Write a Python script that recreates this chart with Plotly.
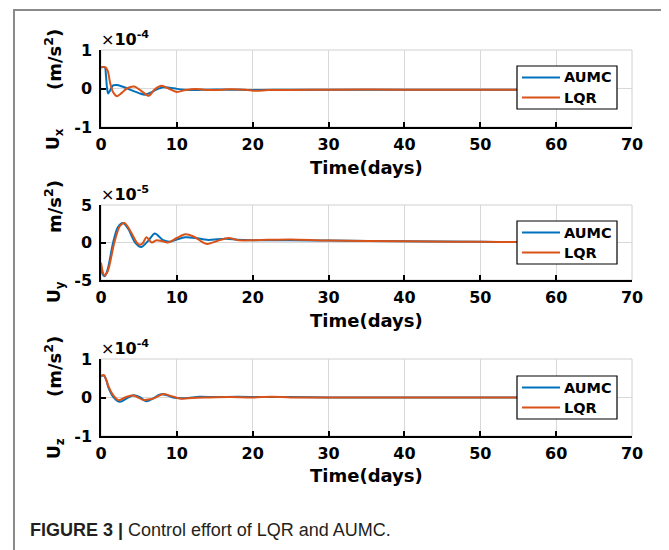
import plotly.graph_objects as go

# ---------------- data ----------------
# U_x, units of 1e-4 m/s^2
ux_aumc_t = [0, 0.5, 0.65, 0.8, 0.95, 1.2, 1.6, 2.1, 2.8, 3.5, 4.3, 5.0, 5.8, 6.5, 7.3, 8.2, 9.0, 10.0,
             11.0, 12.5, 14, 17, 20, 25, 30, 40, 50, 60]
ux_aumc_v = [0.55, 0.55, 0.35, 0.0, -0.13, -0.05, 0.08, 0.09, 0.05, 0.0, -0.07, -0.12, -0.16, -0.11,
             -0.03, 0.03, 0.02, -0.01, -0.03, -0.04, -0.03, -0.03, -0.04, -0.03, -0.03, -0.03, -0.03, -0.03]
ux_lqr_t = [0, 0.3, 0.6, 0.9, 1.2, 1.6, 2.1, 2.7, 3.4, 4.4, 5.3, 6.3, 7.1, 8.0, 8.9, 10.0, 11.1, 12.4,
            13.5, 15, 17, 19, 20.5, 22, 25, 30, 40, 50, 60]
ux_lqr_v = [0.55, 0.56, 0.55, 0.45, 0.15, -0.1, -0.2, -0.12, 0.0, 0.05, -0.06, -0.19, -0.02, 0.07, 0.0,
            -0.09, -0.04, -0.01, -0.03, -0.04, -0.02, -0.03, -0.06, -0.04, -0.04, -0.03, -0.03, -0.03, -0.03]

# U_y, units of 1e-5 m/s^2
uy_aumc_t = [0, 0.25, 0.5, 0.9, 1.6, 2.2, 2.9, 3.6, 4.5, 5.3, 6.2, 7.1, 8.2, 9.1, 10.0, 11.1, 12.5, 14,
             16.5, 18, 20, 25, 30, 40, 50, 55, 60]
uy_aumc_v = [-3.3, -4.3, -4.5, -3.5, 0.0, 2.0, 2.6, 1.8, 0.0, -0.6, 0.2, 1.2, 0.3, 0.1, 0.4, 0.7, 0.6,
             0.35, 0.5, 0.35, 0.3, 0.3, 0.25, 0.15, 0.1, 0.05, 0.05]
uy_lqr_t = [0, 0.2, 0.45, 0.9, 1.76, 2.5, 3.1, 4.0, 4.7, 5.1, 5.5, 6.0, 6.7, 7.3, 8.0, 8.8, 10.0, 11.1,
            12.2, 13.3, 14.0, 15.3, 16.8, 18.2, 20, 22, 25, 30, 40, 47, 50, 55, 60]
uy_lqr_v = [-2.7, -3.8, -4.4, -3.8, 0.0, 2.2, 2.6, 1.3, 0.0, -0.3, -0.1, 0.7, 0.0, 0.3, 0.2, 0.0, 0.6,
            1.1, 0.8, 0.1, -0.2, 0.2, 0.6, 0.3, 0.3, 0.35, 0.4, 0.25, 0.15, 0.1, 0.1, 0.05, 0.05]

# U_z, units of 1e-4 m/s^2
uz_aumc_t = [0, 0.4, 0.7, 1.0, 1.6, 2.5, 3.4, 4.3, 5.2, 6.0, 6.9, 7.8, 8.7, 9.5, 10.5, 11.5, 13, 15,
             18, 21, 25, 30, 40, 50, 60]
uz_aumc_v = [0.56, 0.57, 0.45, 0.25, 0.02, -0.11, -0.02, 0.06, 0.0, -0.1, -0.02, 0.08, 0.06, 0.0,
             -0.02, -0.01, 0.02, 0.01, 0.02, 0.01, 0.01, 0.0, 0.0, 0.0, 0.0]
uz_lqr_t = [0, 0.4, 0.7, 1.0, 1.6, 2.3, 3.4, 4.3, 5.0, 5.6, 6.2, 6.9, 7.5, 8.2, 9.3, 10.6, 12, 14, 17,
            20, 22.5, 25, 30, 40, 50, 60]
uz_lqr_v = [0.56, 0.58, 0.45, 0.28, 0.06, -0.07, 0.02, 0.05, -0.01, -0.07, -0.05, -0.03, 0.03, 0.09,
            0.035, -0.03, -0.01, 0.0, 0.01, 0.0, 0.02, 0.0, 0.0, 0.0, 0.0, 0.0]

x_ticks = [0, 10, 20, 30, 40, 50, 60, 70]
y_ticks_x = [-1, 0, 1]
y_ticks_y = [-5, 0, 5]
y_ticks_z = [-1, 0, 1]
y_ticktext_x = ["-1", "0", "1"]
y_ticktext_y = ["-5", "0", "5"]
y_ticktext_z = ["-1", "0", "1"]
series_names = ["AUMC", "LQR"]
exp_labels = ["-4", "-5", "-4"]

# ---------------- styling ----------------
# The page body has an 8px margin, so the figure is sized to the visible
# window area and all page coordinates are offset by that margin.
OFF = 8
W, H = 669 - OFF, 550 - OFF
BLUE = "#0072BD"
ORANGE = "#D95319"
COLORS = [BLUE, ORANGE]
FONT = "DejaVu Sans"

def px(x):
    return (x - OFF) / W

def py(y):
    return 1 - (y - OFF) / H

xdom = [px(101), px(632)]
ydoms = [[py(127), py(50)], [py(280), py(205)], [py(436), py(359)]]

fig = go.Figure()

panels = [
    (ux_aumc_t, ux_aumc_v, ux_lqr_t, ux_lqr_v, y_ticks_x, y_ticktext_x),
    (uy_aumc_t, uy_aumc_v, uy_lqr_t, uy_lqr_v, y_ticks_y, y_ticktext_y),
    (uz_aumc_t, uz_aumc_v, uz_lqr_t, uz_lqr_v, y_ticks_z, y_ticktext_z),
]
legend_tops = [66, 221, 376]

layout = dict(
    width=W, height=H,
    margin=dict(l=0, r=0, t=0, b=0, pad=0, autoexpand=False),
    paper_bgcolor="white", plot_bgcolor="white",
    font=dict(family=FONT, color="black"),
    showlegend=False,
)

shapes = []
annotations = []

for i, (ta, va, tl, vl, yt, ytt) in enumerate(panels):
    n = "" if i == 0 else str(i + 1)
    xa, ya = "x" + n, "y" + n
    fig.add_trace(go.Scatter(x=ta, y=va, mode="lines", name=series_names[0], xaxis=xa, yaxis=ya,
                             line=dict(color=BLUE, width=2, shape="spline", smoothing=0.8)))
    fig.add_trace(go.Scatter(x=tl, y=vl, mode="lines", name=series_names[1], xaxis=xa, yaxis=ya,
                             line=dict(color=ORANGE, width=2, shape="spline", smoothing=0.8)))
    layout["xaxis" + n] = dict(
        domain=xdom, anchor=ya, range=[0, 70], tickvals=x_ticks, ticks="inside", ticklen=5,
        tickwidth=1.5, tickcolor="black", showline=True, linecolor="black", linewidth=1.5,
        showgrid=True, gridcolor="#d8d8d8", gridwidth=1, zeroline=False, automargin=False,
        tickfont=dict(family=FONT, size=16, weight="bold", color="black"), ticklabelstandoff=2,
    )
    layout["yaxis" + n] = dict(
        domain=ydoms[i], anchor=xa, range=[yt[0], yt[-1]], tickvals=yt, ticktext=ytt,
        ticks="inside", ticklen=5, automargin=False,
        tickwidth=1.5, tickcolor="black", showline=True, linecolor="black", linewidth=1.5,
        showgrid=True, gridcolor="#d8d8d8", gridwidth=1, zeroline=False,
        tickfont=dict(family=FONT, size=16, weight="bold", color="black"), ticklabelstandoff=4,
    )
    shapes.append(dict(type="rect", xref=xa + " domain", yref=ya + " domain", x0=0, x1=1, y0=0, y1=1,
                       line=dict(color="#d0d0d0", width=1), layer="below"))
    annotations.append(dict(
        text="×<b>10<sup>" + exp_labels[i] + "</sup></b>", xref=xa + " domain", yref=ya + " domain",
        x=0, y=1, xanchor="left", yanchor="bottom", showarrow=False, yshift=-1, xshift=-2,
        font=dict(family=FONT, size=16, color="black")))
    annotations.append(dict(
        text="<b>Time(days)</b>", xref=xa + " domain", yref="paper", x=0.5,
        y=py([167, 320, 475][i]), xanchor="center", yanchor="middle", showarrow=False,
        font=dict(family=FONT, size=18, color="black")))

    # legend box (drawn as shapes + text so its size matches the figure)
    top = legend_tops[i]
    shapes.append(dict(type="rect", xref="paper", yref="paper", x0=px(517), x1=px(617),
                       y0=py(top + 43), y1=py(top), fillcolor="white",
                       line=dict(color="black", width=1.2), layer="above"))
    for k in range(2):
        yy = top + 11.5 + 20 * k
        shapes.append(dict(type="line", xref="paper", yref="paper", x0=px(522), x1=px(560),
                           y0=py(yy), y1=py(yy), line=dict(color=COLORS[k], width=2), layer="above"))
        annotations.append(dict(text="<b>" + series_names[k] + "</b>", xref="paper", yref="paper",
                                x=px(562), y=py(yy), xanchor="left", yanchor="middle", showarrow=False,
                                font=dict(family=FONT, size=14.5, color="black")))

ylab_unit = ["<b>(m/s<sup>2</sup>)</b>", "<b>m/s<sup>2</sup>)</b>", "<b>(m/s<sup>2</sup>)</b>"]
ylab_unit_y = [60, 207, 367]
ylab_u = ["<b>U<sub>x</sub></b>", "<b>U<sub>y</sub></b>", "<b>U<sub>z</sub></b>"]
ylab_u_y = [139, 292, 449]
for i in range(3):
    annotations.append(dict(text=ylab_unit[i], xref="paper", yref="paper", x=px(53), y=py(ylab_unit_y[i]),
                            xanchor="center", yanchor="middle", textangle=-90, showarrow=False,
                            font=dict(family=FONT, size=18, color="black")))
    annotations.append(dict(text=ylab_u[i], xref="paper", yref="paper", x=px(55), y=py(ylab_u_y[i]),
                            xanchor="center", yanchor="middle", textangle=-90, showarrow=False,
                            font=dict(family=FONT, size=17, color="black")))

annotations.append(dict(
    text="<b>FIGURE 3 |</b> Control effort of LQR and AUMC.", xref="paper", yref="paper",
    x=px(28), y=py(530), xanchor="left", yanchor="middle", showarrow=False,
    font=dict(family="Liberation Sans Narrow, Liberation Sans, Arial", size=18, color="#231f20")))

# outer figure frame (open at the bottom)
shapes.append(dict(type="path", xref="paper", yref="paper",
                   path=f"M {px(14)},{py(560)} L {px(14)},{py(10)} L {px(663)},{py(10)} L {px(663)},{py(560)}",
                   line=dict(color="#8a8a8a", width=2)))

layout["shapes"] = shapes
layout["annotations"] = annotations
fig.update_layout(**layout)

fig.write_html("out.html")
